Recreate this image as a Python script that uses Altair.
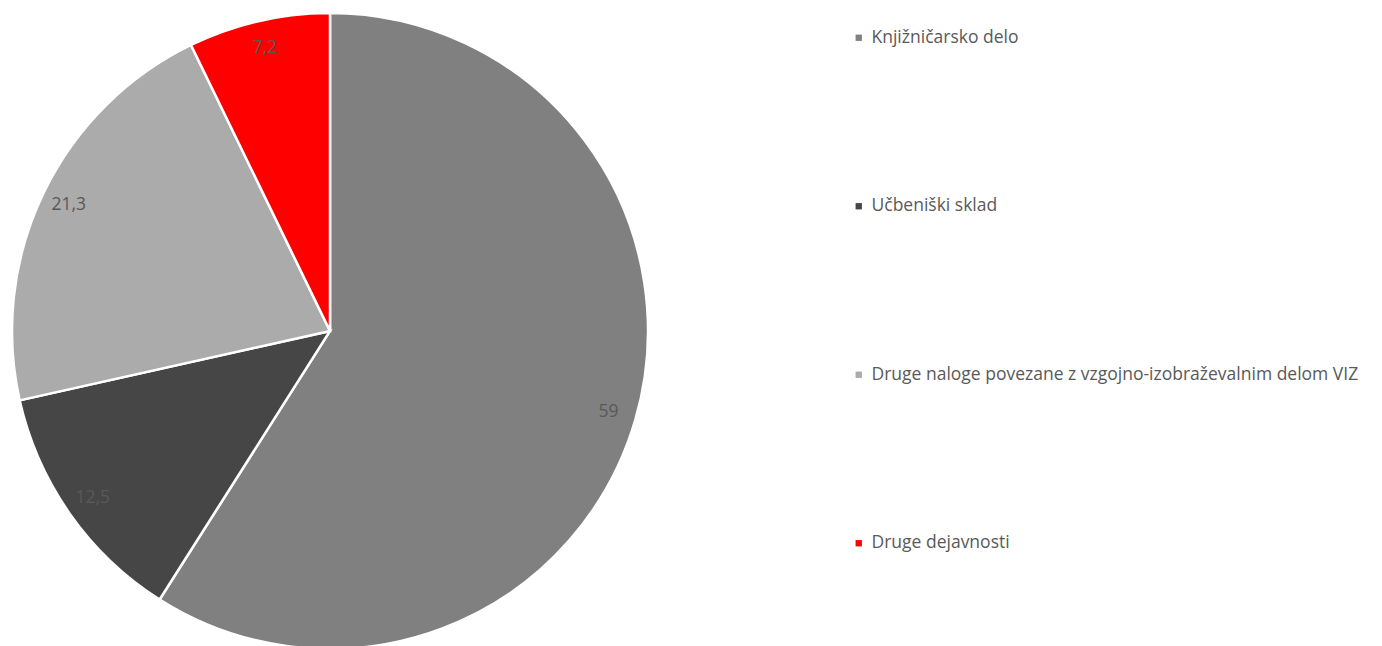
import altair as alt
import pandas as pd

categories = [
    "Knjižničarsko delo",
    "Učbeniški sklad",
    "Druge naloge povezane z vzgojno-izobraževalnim delom VIZ",
    "Druge dejavnosti",
]
values = [59, 12.5, 21.3, 7.2]
value_labels = ["59", "12,5", "21,3", "7,2"]
colors = ["#808080", "#464646", "#ababab", "#ff0000"]

df = pd.DataFrame({
    "kategorija": categories,
    "vrednost": values,
    "oznaka": value_labels,
    "idx": list(range(len(categories))),
})

base = alt.Chart(df).encode(
    theta=alt.Theta("vrednost:Q", stack=True),
    order=alt.Order("idx:Q", sort="ascending"),
)

pie = base.mark_arc(outerRadius=318, stroke="white", strokeWidth=2.5).encode(
    x=alt.value(322),
    y=alt.value(323),
    color=alt.Color(
        "kategorija:N",
        scale=alt.Scale(domain=categories, range=colors),
        sort=categories,
        legend=alt.Legend(
            title=None,
            orient="none",
            legendX=842,
            legendY=21,
            symbolType="square",
            symbolSize=40,
            symbolStrokeWidth=0,
            labelFontSize=17.5,
            labelFont="Open Sans",
            labelColor="#595959",
            labelLimit=700,
            labelOffset=4,
            rowPadding=149.5,
        ),
    ),
)

text = base.mark_text(radius=290, fontSize=17.5, font="Open Sans", color="#595959").encode(
    x=alt.value(322),
    y=alt.value(323),
    text="oznaka:N",
)

chart = (pie + text).properties(
    width=1366, height=640, padding=0, autosize=alt.AutoSizeParams(type="none")
).configure_view(stroke=None)

chart.save("out.html", embed_options={"renderer": "svg", "actions": False})
